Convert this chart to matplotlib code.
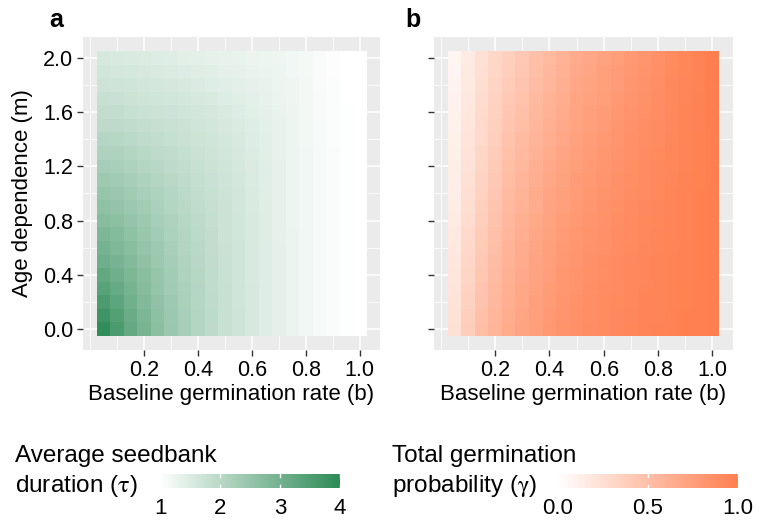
import numpy as np
import matplotlib
matplotlib.use("Agg")
import matplotlib.pyplot as plt
from matplotlib.colors import LinearSegmentedColormap

plt.rcParams['font.family'] = ['Liberation Sans', 'DejaVu Sans']
plt.rcParams['mathtext.fontset'] = 'stix'

# baseline germination rate (columns) and age dependence (rows)
b_vals = [0.05, 0.10, 0.15, 0.20, 0.25, 0.30, 0.35, 0.40, 0.45, 0.50,
          0.55, 0.60, 0.65, 0.70, 0.75, 0.80, 0.85, 0.90, 0.95, 1.00]
m_vals = [0.0, 0.1, 0.2, 0.3, 0.4, 0.5, 0.6, 0.7, 0.8, 0.9, 1.0,
          1.1, 1.2, 1.3, 1.4, 1.5, 1.6, 1.7, 1.8, 1.9, 2.0]

# average seedbank duration, one list per b column (m = 0 ... 2)
tau_cols = [
    [3.95, 3.76, 3.58, 3.40, 3.24, 3.08, 2.97, 2.86, 2.73, 2.61, 2.51, 2.39, 2.28, 2.17, 2.06, 1.96, 1.88, 1.80, 1.72, 1.66, 1.60],
    [3.58, 3.46, 3.33, 3.20, 3.07, 2.95, 2.85, 2.75, 2.64, 2.54, 2.45, 2.35, 2.25, 2.15, 2.05, 1.95, 1.87, 1.78, 1.70, 1.63, 1.57],
    [3.22, 3.14, 3.05, 2.96, 2.87, 2.78, 2.69, 2.61, 2.52, 2.44, 2.35, 2.26, 2.17, 2.08, 1.99, 1.90, 1.82, 1.74, 1.67, 1.60, 1.55],
    [2.94, 2.88, 2.81, 2.74, 2.67, 2.60, 2.53, 2.46, 2.39, 2.32, 2.25, 2.17, 2.09, 2.01, 1.93, 1.86, 1.78, 1.71, 1.64, 1.58, 1.52],
    [2.66, 2.62, 2.58, 2.53, 2.49, 2.44, 2.39, 2.33, 2.27, 2.21, 2.15, 2.09, 2.02, 1.96, 1.89, 1.83, 1.76, 1.69, 1.62, 1.55, 1.49],
    [2.45, 2.42, 2.39, 2.35, 2.32, 2.28, 2.24, 2.19, 2.15, 2.10, 2.06, 2.01, 1.95, 1.90, 1.84, 1.79, 1.72, 1.66, 1.59, 1.52, 1.46],
    [2.27, 2.25, 2.22, 2.20, 2.17, 2.14, 2.11, 2.08, 2.04, 2.01, 1.97, 1.93, 1.88, 1.84, 1.79, 1.74, 1.68, 1.62, 1.56, 1.49, 1.43],
    [2.10, 2.09, 2.07, 2.06, 2.04, 2.02, 2.00, 1.97, 1.95, 1.92, 1.89, 1.85, 1.81, 1.77, 1.73, 1.69, 1.64, 1.58, 1.52, 1.46, 1.40],
    [1.95, 1.94, 1.93, 1.92, 1.91, 1.90, 1.88, 1.87, 1.85, 1.83, 1.81, 1.78, 1.75, 1.71, 1.68, 1.64, 1.59, 1.54, 1.48, 1.43, 1.37],
    [1.81, 1.81, 1.80, 1.80, 1.79, 1.78, 1.77, 1.76, 1.75, 1.74, 1.72, 1.70, 1.67, 1.64, 1.61, 1.58, 1.54, 1.49, 1.44, 1.39, 1.34],
    [1.70, 1.70, 1.69, 1.69, 1.68, 1.68, 1.67, 1.66, 1.66, 1.65, 1.64, 1.62, 1.60, 1.58, 1.56, 1.53, 1.49, 1.45, 1.41, 1.36, 1.32],
    [1.58, 1.58, 1.58, 1.58, 1.57, 1.57, 1.57, 1.56, 1.56, 1.55, 1.54, 1.53, 1.52, 1.50, 1.49, 1.47, 1.43, 1.40, 1.36, 1.32, 1.29],
    [1.48, 1.48, 1.48, 1.47, 1.47, 1.47, 1.47, 1.46, 1.46, 1.46, 1.45, 1.44, 1.44, 1.43, 1.42, 1.40, 1.38, 1.35, 1.32, 1.29, 1.27],
    [1.38, 1.38, 1.38, 1.38, 1.38, 1.38, 1.38, 1.37, 1.37, 1.37, 1.37, 1.36, 1.36, 1.35, 1.34, 1.33, 1.32, 1.30, 1.28, 1.26, 1.24],
    [1.29, 1.29, 1.29, 1.29, 1.29, 1.29, 1.29, 1.29, 1.28, 1.28, 1.28, 1.28, 1.27, 1.27, 1.27, 1.26, 1.25, 1.24, 1.23, 1.21, 1.20],
    [1.21, 1.21, 1.21, 1.21, 1.21, 1.21, 1.21, 1.21, 1.21, 1.20, 1.20, 1.20, 1.20, 1.20, 1.19, 1.19, 1.19, 1.18, 1.18, 1.17, 1.16],
    [1.14, 1.14, 1.14, 1.14, 1.14, 1.14, 1.14, 1.14, 1.14, 1.14, 1.14, 1.14, 1.14, 1.13, 1.13, 1.13, 1.12, 1.12, 1.11, 1.11, 1.10],
    [1.08, 1.08, 1.08, 1.08, 1.08, 1.08, 1.08, 1.08, 1.08, 1.08, 1.08, 1.08, 1.08, 1.08, 1.07, 1.07, 1.07, 1.06, 1.06, 1.05, 1.05],
    [1.03, 1.03, 1.03, 1.03, 1.03, 1.03, 1.03, 1.03, 1.03, 1.03, 1.03, 1.03, 1.03, 1.03, 1.03, 1.03, 1.03, 1.02, 1.02, 1.02, 1.02],
    [1.00, 1.00, 1.00, 1.00, 1.00, 1.00, 1.00, 1.00, 1.00, 1.00, 1.00, 1.00, 1.00, 1.00, 1.00, 1.00, 1.00, 1.00, 1.00, 1.00, 1.00],
]

# total germination probability, one list per b column (m = 0 ... 2)
gamma_cols = [
    [0.24, 0.23, 0.22, 0.21, 0.20, 0.19, 0.18, 0.17, 0.16, 0.15, 0.14, 0.135, 0.13, 0.125, 0.12, 0.11, 0.105, 0.10, 0.09, 0.085, 0.08],
    [0.39, 0.375, 0.36, 0.345, 0.33, 0.32, 0.305, 0.29, 0.275, 0.26, 0.25, 0.24, 0.23, 0.22, 0.21, 0.20, 0.19, 0.18, 0.175, 0.165, 0.16],
    [0.50, 0.49, 0.47, 0.46, 0.445, 0.43, 0.415, 0.40, 0.385, 0.37, 0.35, 0.34, 0.33, 0.315, 0.30, 0.29, 0.28, 0.27, 0.26, 0.25, 0.24],
    [0.58, 0.57, 0.56, 0.55, 0.535, 0.52, 0.505, 0.49, 0.475, 0.46, 0.44, 0.43, 0.415, 0.40, 0.385, 0.37, 0.36, 0.35, 0.335, 0.32, 0.31],
    [0.65, 0.64, 0.63, 0.62, 0.61, 0.60, 0.585, 0.57, 0.56, 0.545, 0.53, 0.515, 0.50, 0.485, 0.47, 0.45, 0.435, 0.42, 0.40, 0.385, 0.37],
    [0.71, 0.70, 0.69, 0.68, 0.67, 0.66, 0.645, 0.63, 0.62, 0.605, 0.59, 0.575, 0.56, 0.545, 0.53, 0.51, 0.495, 0.48, 0.46, 0.445, 0.43],
    [0.76, 0.75, 0.74, 0.73, 0.72, 0.71, 0.70, 0.69, 0.675, 0.66, 0.65, 0.635, 0.62, 0.60, 0.585, 0.57, 0.555, 0.54, 0.52, 0.505, 0.49],
    [0.80, 0.79, 0.78, 0.77, 0.76, 0.75, 0.74, 0.73, 0.72, 0.71, 0.70, 0.685, 0.67, 0.65, 0.635, 0.62, 0.605, 0.59, 0.57, 0.555, 0.54],
    [0.84, 0.83, 0.825, 0.815, 0.81, 0.80, 0.79, 0.775, 0.765, 0.75, 0.74, 0.73, 0.715, 0.70, 0.685, 0.67, 0.655, 0.64, 0.625, 0.61, 0.60],
    [0.87, 0.865, 0.855, 0.845, 0.84, 0.83, 0.82, 0.81, 0.80, 0.79, 0.78, 0.77, 0.76, 0.745, 0.735, 0.72, 0.71, 0.70, 0.685, 0.67, 0.66],
    [0.89, 0.885, 0.88, 0.875, 0.865, 0.86, 0.85, 0.84, 0.83, 0.82, 0.81, 0.80, 0.79, 0.775, 0.765, 0.75, 0.74, 0.73, 0.715, 0.70, 0.69],
    [0.91, 0.905, 0.90, 0.895, 0.885, 0.88, 0.87, 0.865, 0.855, 0.85, 0.84, 0.83, 0.82, 0.81, 0.795, 0.78, 0.77, 0.76, 0.75, 0.74, 0.73],
    [0.925, 0.92, 0.915, 0.91, 0.905, 0.90, 0.895, 0.89, 0.88, 0.875, 0.87, 0.86, 0.85, 0.84, 0.83, 0.82, 0.81, 0.80, 0.785, 0.77, 0.76],
    [0.94, 0.935, 0.93, 0.93, 0.925, 0.92, 0.915, 0.91, 0.905, 0.90, 0.89, 0.885, 0.875, 0.87, 0.86, 0.85, 0.84, 0.83, 0.82, 0.81, 0.80],
    [0.955, 0.95, 0.95, 0.945, 0.94, 0.94, 0.935, 0.93, 0.925, 0.92, 0.91, 0.905, 0.90, 0.895, 0.885, 0.88, 0.87, 0.86, 0.85, 0.84, 0.83],
    [0.965, 0.96, 0.96, 0.955, 0.955, 0.95, 0.945, 0.945, 0.94, 0.935, 0.93, 0.925, 0.92, 0.915, 0.91, 0.90, 0.895, 0.89, 0.88, 0.875, 0.87],
    [0.975, 0.975, 0.97, 0.97, 0.965, 0.965, 0.96, 0.96, 0.955, 0.955, 0.95, 0.945, 0.94, 0.94, 0.935, 0.93, 0.925, 0.92, 0.92, 0.915, 0.91],
    [0.985, 0.985, 0.98, 0.98, 0.975, 0.975, 0.975, 0.97, 0.97, 0.97, 0.97, 0.965, 0.96, 0.96, 0.955, 0.95, 0.95, 0.945, 0.945, 0.94, 0.94],
    [0.99, 0.99, 0.99, 0.99, 0.99, 0.99, 0.985, 0.985, 0.985, 0.985, 0.985, 0.98, 0.98, 0.98, 0.98, 0.975, 0.975, 0.975, 0.97, 0.97, 0.97],
    [1.00, 1.00, 1.00, 1.00, 1.00, 1.00, 1.00, 1.00, 1.00, 1.00, 1.00, 1.00, 1.00, 1.00, 1.00, 1.00, 1.00, 1.00, 1.00, 1.00, 1.00],
]

x_ticks = [0.2, 0.4, 0.6, 0.8, 1.0]
x_ticklabels = ['0.2', '0.4', '0.6', '0.8', '1.0']
y_ticks = [0.0, 0.4, 0.8, 1.2, 1.6, 2.0]
y_ticklabels = ['0.0', '0.4', '0.8', '1.2', '1.6', '2.0']
tau_ticks = [1, 2, 3, 4]
gamma_ticks = [0.0, 0.5, 1.0]
gamma_ticklabels = ['0.0', '0.5', '1.0']

tau = np.array(tau_cols).T
gamma = np.array(gamma_cols).T

cmap_g = LinearSegmentedColormap.from_list('wg', ['#FFFFFF', '#2E8B57'])
cmap_o = LinearSegmentedColormap.from_list('wo', ['#FFFFFF', '#FF7F50'])

W, H = 757, 520
fig = plt.figure(figsize=(W / 100, H / 100), dpi=100)


def px(x0, y0, x1, y1):
    return [x0 / W, 1 - y1 / H, (x1 - x0) / W, (y1 - y0) / H]


def style(ax, show_ylabels):
    ax.set_facecolor('#EBEBEB')
    for s in ax.spines.values():
        s.set_visible(False)
    ax.set_xlim(-0.025, 1.075)
    ax.set_ylim(-0.155, 2.155)
    ax.set_xticks(x_ticks)
    ax.set_xticklabels(x_ticklabels)
    ax.set_xticks([0.0, 0.1, 0.3, 0.5, 0.7, 0.9], minor=True)
    ax.set_yticks(y_ticks)
    ax.set_yticks([0.2, 0.6, 1.0, 1.4, 1.8], minor=True)
    if show_ylabels:
        ax.set_yticklabels(y_ticklabels)
    else:
        ax.set_yticklabels([])
    ax.set_axisbelow(True)
    ax.grid(which='major', color='white', lw=1.1)
    ax.grid(which='minor', color='white', lw=0.55)
    ax.tick_params(which='major', length=4, width=1, color='#333333',
                   labelsize=15.5, labelcolor='black', pad=3)
    ax.tick_params(which='minor', length=0)
    ax.set_xlabel('Baseline germination rate (b)', fontsize=16, va='center')
    ax.xaxis.set_label_coords(0.5, -0.142)


ax1 = fig.add_axes(px(83, 36.7, 380, 350.3))
ax1.pcolormesh(b_vals, m_vals, tau, shading='nearest', cmap=cmap_g,
               vmin=1, vmax=4, linewidth=0, antialiased=False)
style(ax1, True)
ax1.set_ylabel('Age dependence (m)', fontsize=16, va='center')
ax1.yaxis.set_label_coords(-0.205, 0.5)

ax2 = fig.add_axes(px(434, 36.7, 732.7, 350.3))
ax2.pcolormesh(b_vals, m_vals, gamma, shading='nearest', cmap=cmap_o,
               vmin=0, vmax=1, linewidth=0, antialiased=False)
style(ax2, False)

fig.text(56 / W, 1 - 20 / H, 'a', fontsize=18, fontweight='bold', ha='center', va='center')
fig.text(413 / W, 1 - 20 / H, 'b', fontsize=18, fontweight='bold', ha='center', va='center')


def legend_bar(rect, lo, hi, cmap, ticks, labels):
    cax = fig.add_axes(rect)
    grad = np.linspace(lo, hi, 256).reshape(1, -1)
    cax.imshow(grad, cmap=cmap, vmin=lo, vmax=hi, aspect='auto',
               extent=[lo, hi, 0, 1], interpolation='bilinear')
    for t in ticks:
        cax.plot([t, t], [0, 0.2], color='white', lw=1)
        cax.plot([t, t], [0.8, 1], color='white', lw=1)
    cax.set_xlim(lo, hi)
    cax.set_ylim(0, 1)
    for s in cax.spines.values():
        s.set_visible(False)
    cax.set_yticks([])
    cax.set_xticks(ticks)
    cax.set_xticklabels(labels)
    cax.tick_params(length=0, labelsize=16, pad=7)
    return cax


legend_bar(px(160, 474, 340, 488), 1, 4, cmap_g, tau_ticks, [str(t) for t in tau_ticks])
legend_bar(px(558, 474, 738, 488), 0, 1, cmap_o, gamma_ticks, gamma_ticklabels)

fig.text(15 / W, 1 - 462 / H, 'Average seedbank', fontsize=17.5, va='baseline')
fig.text(15 / W, 1 - 492 / H, r'duration ($\mathrm{\tau}$)', fontsize=17.5, va='baseline')
fig.text(392 / W, 1 - 462 / H, 'Total germination', fontsize=17.5, va='baseline')
fig.text(392 / W, 1 - 492 / H, r'probability ($\mathrm{\gamma}$)', fontsize=17.5, va='baseline')

fig.savefig('out.png', dpi=100)
